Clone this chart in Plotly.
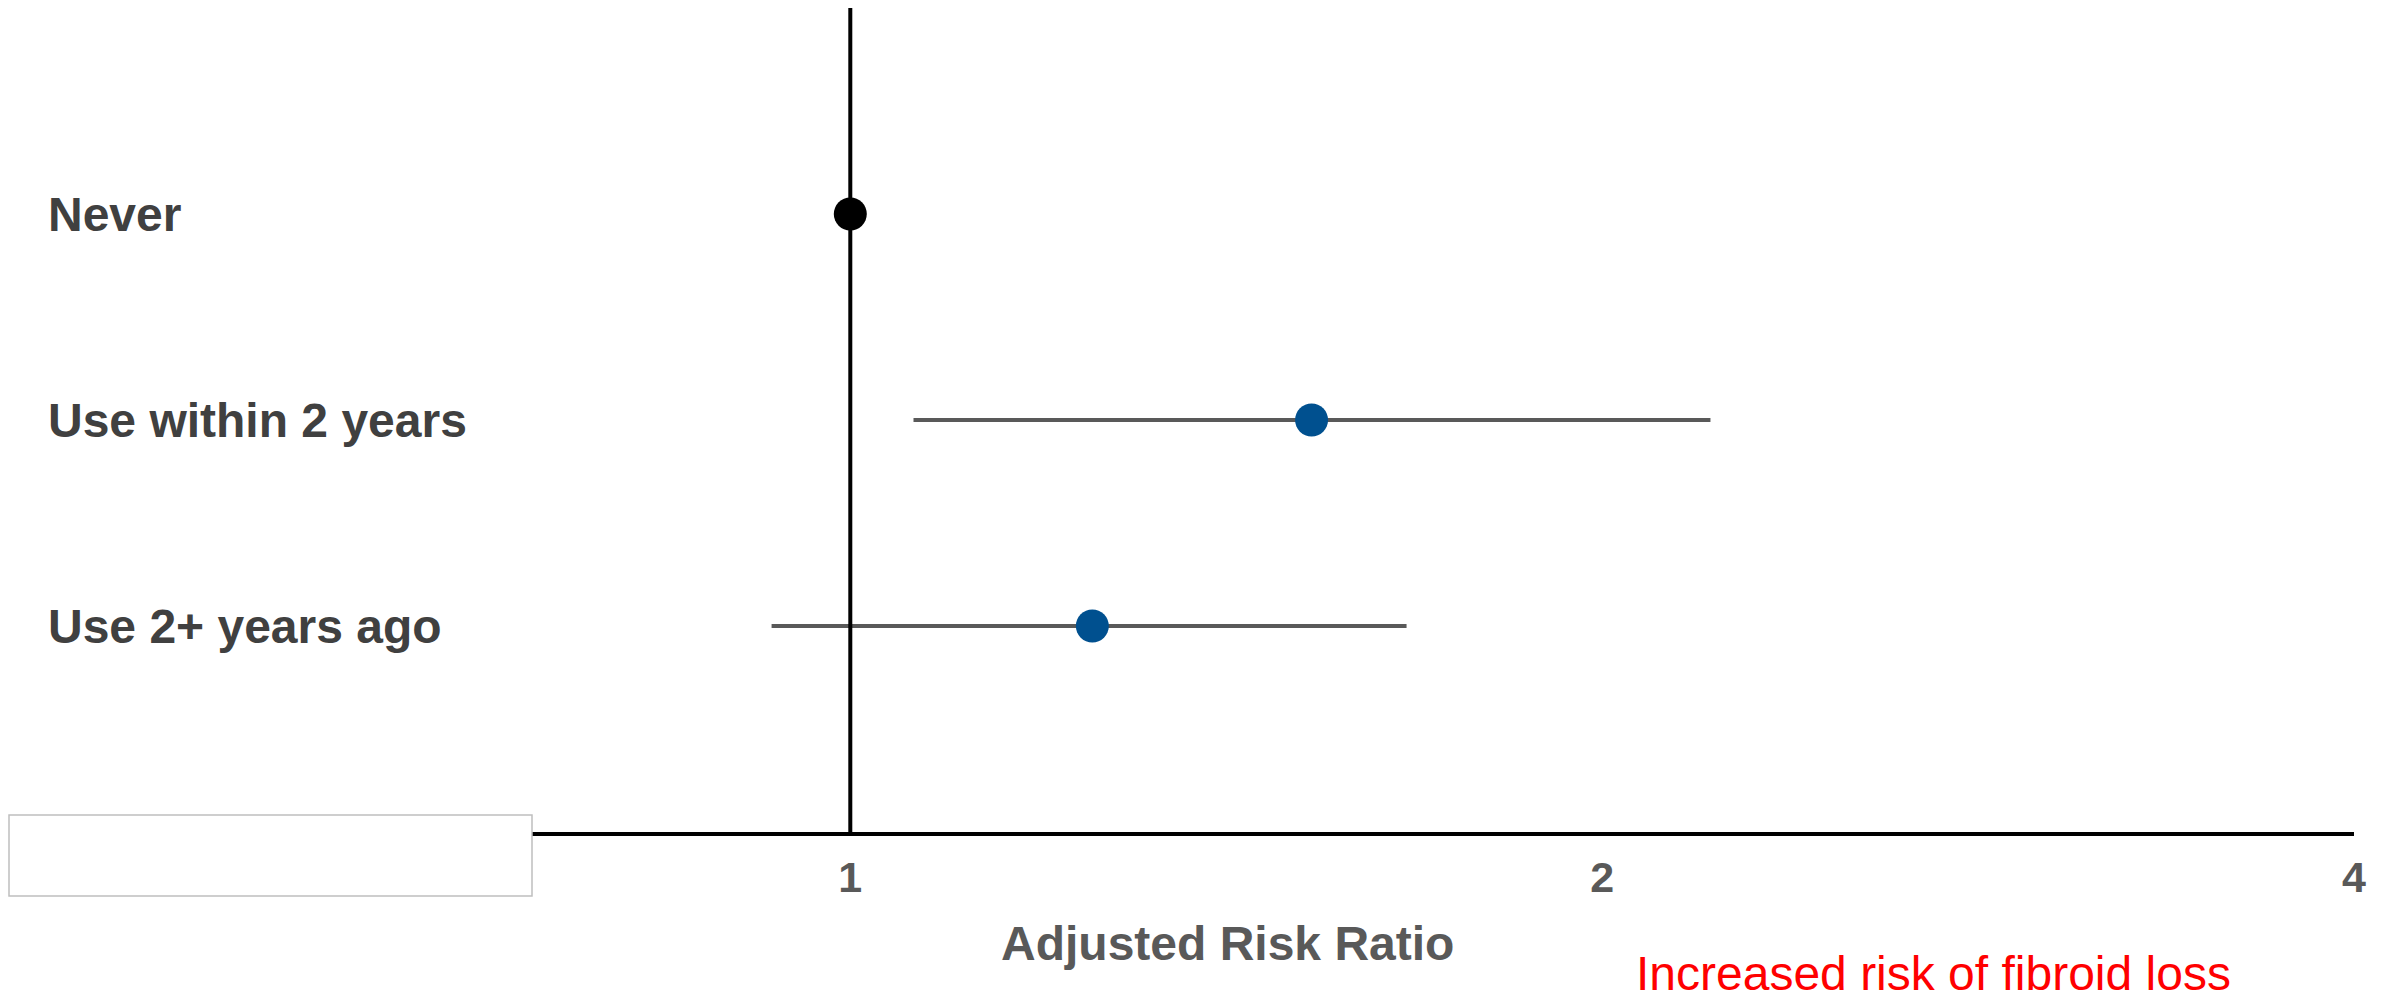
import math
import plotly.graph_objects as go

# ---- data ----
categories = ["Never", "Use within 2 years", "Use 2+ years ago"]
y_pos = [3, 2, 1]
rr = [1.0, 1.53, 1.25]
ci_low = [None, 1.06, 0.93]
ci_high = [None, 2.21, 1.67]
marker_colors = ["#000000", "#00508F", "#00508F"]
tick_vals = [1, 2, 4]
tick_text = ["1", "2", "4"]
ref_value = 1
x_title = "Adjusted Risk Ratio"
note_text = "Increased risk of fibroid loss"

# page body has an 8px default margin; compensate
OFF = 8
W, H = 2381 - 2 * OFF, 1002 - 2 * OFF
ml = 531 - OFF
mt = 8 - OFF
mr = W - (2354 - OFF)
mb = H - (832 - OFF)
plot_w = W - ml - mr
plot_h = H - mt - mb

def px_to_paper_x(px):
    return (px - OFF - ml) / plot_w

def px_to_paper_y(py):
    return (H - mb - (py - OFF)) / plot_h

fig = go.Figure()

for c, y, r, lo, hi, col in zip(categories, y_pos, rr, ci_low, ci_high, marker_colors):
    if lo is not None:
        fig.add_trace(go.Scatter(
            x=[r], y=[y], mode="markers",
            marker=dict(size=33, color=col, line=dict(width=0)),
            error_x=dict(type="data", symmetric=False, array=[hi - r], arrayminus=[r - lo],
                         color="#595959", thickness=4, width=0),
            showlegend=False, hoverinfo="skip"))
    else:
        fig.add_trace(go.Scatter(
            x=[r], y=[y], mode="markers",
            marker=dict(size=33, color=col, line=dict(width=0)),
            showlegend=False, hoverinfo="skip"))

# reference line
fig.add_shape(type="line", xref="x", yref="paper", x0=ref_value, x1=ref_value, y0=0, y1=1,
              line=dict(color="#000000", width=4), layer="above")

# white box with grey border at lower left
fig.add_shape(type="rect", xref="paper", yref="paper",
              x0=px_to_paper_x(9), x1=px_to_paper_x(532),
              y0=px_to_paper_y(896), y1=px_to_paper_y(815),
              fillcolor="#FFFFFF", line=dict(color="#BFBFBF", width=1.5), layer="above")

for c, y in zip(categories, y_pos):
    fig.add_annotation(text=c, xref="paper", yref="y", x=px_to_paper_x(46), y=y,
                       xanchor="left", yanchor="middle", showarrow=False,
                       font=dict(family="Liberation Sans, Arial", size=48, color="#404040", weight="bold"))

fig.add_annotation(text=x_title, xref="paper", yref="paper",
                   x=px_to_paper_x(1227), y=px_to_paper_y(943),
                   xanchor="center", yanchor="middle", showarrow=False,
                   font=dict(family="Liberation Sans, Arial", size=48, color="#595959", weight="bold"))

fig.add_annotation(text=note_text, xref="paper", yref="paper",
                   x=px_to_paper_x(1933), y=px_to_paper_y(973),
                   xanchor="center", yanchor="middle", showarrow=False,
                   font=dict(family="Liberation Sans, Arial", size=48, color="#FF0000"))

fig.update_xaxes(type="log", range=[math.log10(0.745), math.log10(4)],
                 tickvals=tick_vals, ticktext=tick_text, ticks="", ticklen=0,
                 showgrid=False, zeroline=False,
                 showline=True, linecolor="#000000", linewidth=4,
                 ticklabelstandoff=4,
                 tickfont=dict(family="Liberation Sans, Arial", size=43, color="#595959", weight="bold"))
fig.update_yaxes(range=[0, 4], showgrid=False, zeroline=False, showticklabels=False,
                 showline=False, ticks="")

fig.update_layout(width=W, height=H, margin=dict(l=ml, r=mr, t=mt, b=mb, pad=0),
                  plot_bgcolor="#FFFFFF", paper_bgcolor="#FFFFFF", showlegend=False)

fig.write_html("out.html")
